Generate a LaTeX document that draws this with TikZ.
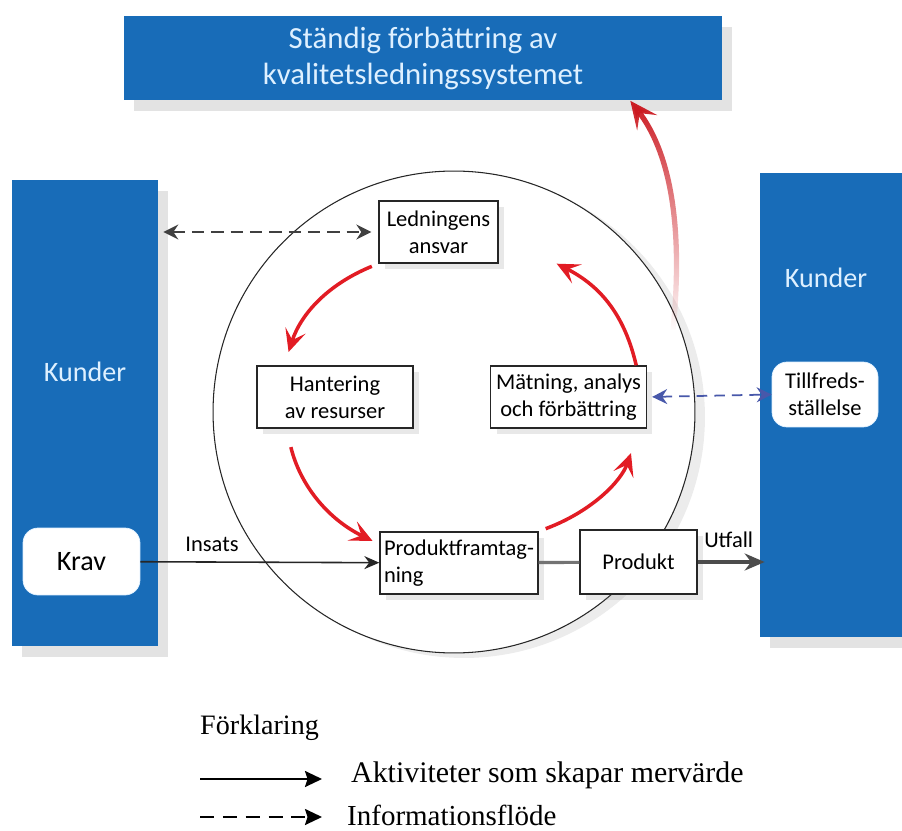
\documentclass[tikz,border=0pt]{standalone}
\usepackage{fontspec}
\setmainfont{Carlito}
\newfontfamily\legendfont{Liberation Serif}
\usepackage{xcolor}
\usetikzlibrary{arrows.meta, positioning, shadows, fadings}

\definecolor{kundblue}{RGB}{24,108,184}
\definecolor{ljus}{RGB}{222,240,255}
\definecolor{pilrod}{RGB}{226,28,36}
\definecolor{infoblue}{RGB}{72,88,170}

\begin{document}
\begin{tikzpicture}[x=0.02cm, y=-0.02cm,
    bluebox/.style={fill=kundblue, text=ljus, inner sep=0pt,
        drop shadow={shadow xshift=2mm, shadow yshift=-2.2mm, opacity=0.22}},
    process/.style={draw=black!85, line width=0.8pt, fill=white, align=center,
        inner sep=2pt, font=\fontsize{12.8}{15.5}\selectfont,
        drop shadow={shadow xshift=1.2mm, shadow yshift=-1.2mm, opacity=0.18}},
    kundbox/.style={fill=white, draw=ljus, rounded corners=3mm, align=center},
    flow/.style={draw=black!85, line width=0.9pt, -{Stealth[length=3mm, width=2.6mm]}},
    info/.style={draw=black!75, line width=1.1pt, dash pattern=on 7pt off 4pt,
        {Stealth[length=3mm, width=3mm, inset=1mm]}-{Stealth[length=3mm, width=3mm, inset=1mm]}},
    cyc/.style={draw=pilrod, line width=2pt, bend right=25,
        -{Stealth[length=4.5mm, width=4.2mm, inset=2mm]}}]

    \useasboundingbox (0,0) rectangle (902,831);

    \node[bluebox, minimum width=11.96cm, minimum height=1.7cm, align=center,
        font=\fontsize{17.5}{20.5}\selectfont] (mal) at (423,58)
        {Ständig förbättring av\\kvalitetsledningssystemet};

    \node[bluebox, minimum width=2.92cm, minimum height=9.32cm] (kundin) at (85,413) {};
    \node[bluebox, minimum width=2.84cm, minimum height=9.28cm] (kundut) at (831,405) {};
    \node[text=ljus, font=\fontsize{16}{19}\selectfont] (kin) at (85,372) {Kunder};
    \node[text=ljus, font=\fontsize{16}{19}\selectfont] (kut) at (826,278) {Kunder};

    \node[kundbox, minimum width=2.34cm, minimum height=1.34cm,
        font=\fontsize{16}{19}\selectfont] (krav) at (81.5,561.5) {Krav};
    \node[kundbox, minimum width=2.12cm, minimum height=1.3cm,
        font=\fontsize{12.8}{15.5}\selectfont] (nojd) at (825,394.5) {Tillfreds-\\ställelse};

    \node[circle, draw=black!85, line width=0.6pt, fill=white, minimum size=9.64cm,
        drop shadow={shadow xshift=2mm, shadow yshift=-1mm, opacity=0.15}] (cirkel) at (454,412) {};

    \node[process, minimum width=2.38cm, minimum height=1.24cm] (led) at (438.5,232) {Ledningens\\ansvar};
    \node[process, minimum width=3.12cm, minimum height=1.24cm] (han) at (335,397) {Hantering\\av resurser};
    \node[process, minimum width=3.12cm, minimum height=1.24cm] (mat) at (568.5,397) {Mätning, analys\\och förbättring};
    \node[process, text width=3.0cm, minimum height=1.24cm, align=left, inner xsep=0.08cm] (pf) at (459,563) {Produktframtag-\\ning};
    \node[process, minimum width=2.34cm, minimum height=1.28cm] (prod) at (638.5,562) {Produkt};

    \draw[flow] (krav) -- node[pos=0.3, above=2pt, font=\fontsize{12.8}{15.5}\selectfont] {Insats} (pf);
    \draw[draw=black!55, line width=1.8pt] (pf) -- (prod);
    \draw[draw=black!70, line width=1.8pt, -{Stealth[length=4mm, width=3.4mm]}, shorten >=-1mm]
        (prod) -- node[above=4pt, font=\fontsize{12.8}{15.5}\selectfont] {Utfall} (prod -| kundut.west);

    \draw[info, shorten <=1mm, shorten >=1.4mm] (kundin.east |- led) -- (led.west);
    \draw[info, draw=infoblue, line width=1pt, dash pattern=on 6pt off 4pt, shorten <=1mm]
        (mat.east) -- (nojd.west);

    \draw[cyc, shorten <=1.4mm, shorten >=2.8mm] (led.south west) to ([xshift=5.6mm]han.north west);
    \draw[cyc, shorten <=3.8mm, shorten >=1.5mm] ([xshift=6mm]han.south west) to ([yshift=-2.6mm]pf.north west);
    \draw[cyc, shorten <=1.5mm, shorten >=5.2mm] (pf.north east) to ([xshift=-1.5mm]mat.south east);
    \draw[cyc, shorten <=0mm, shorten >=0mm] ([xshift=-2.2mm]mat.north east) to ([xshift=11.6mm]led.south east);

    % den stora pilen upp mot ledningssystemet
    \coordinate (lyft) at (673,330);
    \draw[draw=pilrod!90!black, line width=3pt, path fading=south,
        -{Stealth[length=5.5mm, width=5mm, inset=2.4mm]}]
        (lyft) .. controls (684,220) and (668,150) .. ([xshift=-1.84cm]mal.south east);

    % förklaring
    \node[anchor=west, font=\legendfont\fontsize{16}{19}\selectfont] (forkl) at (194,728) {Förklaring};
    \node[anchor=west, font=\legendfont\fontsize{17}{20}\selectfont] (akt) at (345,775) {Aktiviteter som skapar mervärde};
    \node[anchor=west, font=\legendfont\fontsize{16.5}{19}\selectfont] (inf) at (341,815) {Informationsflöde};
    \coordinate (solid) at (200,779);
    \coordinate (streck) at (200,817);
    \draw[draw=black, line width=1.2pt, -{Stealth[length=3.4mm, width=3.2mm, inset=0.5mm]}, shorten >=4.6mm]
        (solid) -- (solid -| akt.west);
    \draw[draw=black, line width=1.2pt, dash pattern=on 8pt off 5pt,
        -{Stealth[length=3.4mm, width=3.2mm, inset=0.5mm]}, shorten >=3.8mm]
        (streck) -- (streck -| inf.west);
\end{tikzpicture}
\end{document}
